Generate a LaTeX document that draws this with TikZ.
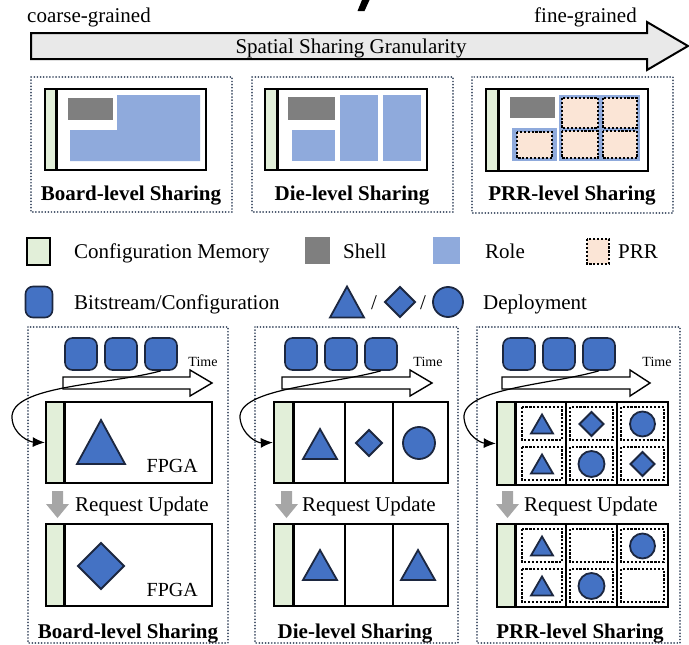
\documentclass[tikz,border=0pt]{standalone}
\usepackage{fontspec}
\setmainfont{Liberation Serif}
\usetikzlibrary{arrows.meta}

\definecolor{cfggreen}{HTML}{E2EFD9}
\definecolor{shellgray}{HTML}{7F7F7F}
\definecolor{roleblue}{HTML}{8FAADC}
\definecolor{prrpeach}{HTML}{FBE5D6}
\definecolor{bitblue}{HTML}{4472C4}
\definecolor{navy}{HTML}{1C2740}
\definecolor{panelc}{HTML}{3E4C63}
\definecolor{arrfill}{HTML}{E9E9E9}
\definecolor{downgray}{HTML}{A6A6A6}

% deployment shapes: centre x, centre y, size
\newcommand\dtri[4]{\draw[deploy] ({#1-#3/2},{#2+#4/2}) -- ({#1+#3/2},{#2+#4/2}) -- (#1,{#2-#4/2}) -- cycle;}
\newcommand\ddia[3]{\draw[deploy] ({#1-#3},#2) -- (#1,{#2-#3}) -- ({#1+#3},#2) -- (#1,{#2+#3}) -- cycle;}
\newcommand\dcirc[3]{\draw[deploy] (#1,#2) circle[radius=#3];}

\begin{document}
\begin{tikzpicture}[x=1pt,y=-1pt,
  txt/.style={inner sep=0pt, font=\fontsize{21}{24}\selectfont},
  lbl/.style={inner sep=0pt, font=\fontsize{21}{24}\selectfont\bfseries},
  fpgatxt/.style={inner sep=0pt, font=\fontsize{20}{24}\selectfont},
  timetxt/.style={inner sep=0pt, font=\fontsize{14}{16}\selectfont},
  panel/.style={draw=panelc, line width=1.9pt, line cap=round, dash pattern=on 0.01pt off 3.1pt},
  prr/.style={draw=black, line width=2.3pt, dash pattern=on 2.2pt off 1.7pt},
  fpga/.style={draw, line width=2.4pt, fill=white, inner sep=0pt,
    path picture={
      \fill[cfggreen] (path picture bounding box.north west) rectangle ([xshift=#1]path picture bounding box.south west);
      \draw[line width=3.6pt] ([xshift=#1+1.6pt]path picture bounding box.north west) -- ([xshift=#1+1.6pt]path picture bounding box.south west);
    }},
  bits/.style={draw=navy, line width=1.6pt, fill=bitblue, rounded corners=7.5pt,
    minimum width=32pt, minimum height=32pt, inner sep=0pt},
  deploy/.style={draw=navy, line width=1.8pt, fill=bitblue},
  timearr/.style={draw=black, line width=1.4pt, fill=white},
  bigarr/.style={draw=black, line width=2pt, fill=arrfill},
  divider/.style={draw=black, line width=1.2pt},
  curv/.style={-{Latex[length=12pt,width=10pt]}, line width=1.2pt},
]
\useasboundingbox (0,0) rectangle (689,645);

% stroke at the top edge
\fill (362,0) -- (369.5,0) -- (364.5,11) -- (357.5,11) -- cycle;

% ---------- granularity arrow ----------
\draw[bigarr] (31,33) -- (647,33) -- (647,22) -- (688,46) -- (647,70) -- (647,59) -- (31,59) -- cycle;
\node[txt, anchor=base west] (coarse) at (27,23) {coarse-grained};
\node[txt, anchor=base east] (fine) at (637,23) {fine-grained};
\node[txt, anchor=base] (gran) at (351,53) {Spatial Sharing Granularity};

% ---------- top row: board / die / PRR ----------
\draw[panel] (31,77) rectangle (232,212);
\node[fpga=10pt, minimum width=161pt, minimum height=81pt] (tb1) at (125.5,129.5) {};
\fill[shellgray] (68,98) rectangle (113,120);
\fill[roleblue] (117,95) -- (200,95) -- (200,161) -- (70,161) -- (70,130) -- (117,130) -- cycle;
\node[lbl, anchor=base] (lb1) at (131,200) {Board-level Sharing};

\draw[panel] (252,77) rectangle (453,212);
\node[fpga=11pt, minimum width=162pt, minimum height=81pt] (tb2) at (346,129.5) {};
\fill[shellgray] (288,97) rectangle (335,120);
\fill[roleblue] (292,130) rectangle (335,161);
\fill[roleblue] (340,95) rectangle (378,161);
\fill[roleblue] (383,95) rectangle (421,161);
\node[lbl, anchor=base] (lb2) at (352,200) {Die-level Sharing};

\draw[panel] (472,77) rectangle (673,213);
\node[fpga=11pt, minimum width=162pt, minimum height=82pt] (tb3) at (567,130) {};
\fill[shellgray] (510,97) rectangle (555,118);
\fill[roleblue] (512,128) rectangle (557,161);
\fill[roleblue] (559,95) rectangle (640,161);
\draw[prr, fill=prrpeach] (517,132) rectangle (552,158);
\draw[prr, fill=prrpeach] (562,98) rectangle (598,128);
\draw[prr, fill=prrpeach] (603,98) rectangle (637,128);
\draw[prr, fill=prrpeach] (562,131) rectangle (598,158);
\draw[prr, fill=prrpeach] (603,131) rectangle (637,158);
\node[lbl, anchor=base] (lb3) at (572,200) {PRR-level Sharing};

% ---------- legend ----------
\draw[line width=2pt, fill=cfggreen] (27,238) rectangle (50,265);
\node[txt, anchor=base west] (lgcfg) at (74,258) {Configuration Memory};
\fill[shellgray] (305,237) rectangle (330,264);
\node[txt, anchor=base west] (lgshell) at (343,258) {Shell};
\fill[roleblue] (433,237) rectangle (460,264);
\node[txt, anchor=base west] (lgrole) at (485,258) {Role};
\draw[prr, line width=1.8pt, fill=prrpeach] (587,239) rectangle (609,264);
\node[txt, anchor=base west] (lgprr) at (618,258) {PRR};

\node[bits, minimum width=27pt, minimum height=31pt] (lgbits) at (39,302) {};
\node[txt, anchor=base west] (lgbitstxt) at (74,309) {Bitstream/Configuration};
\dtri{347}{302}{34}{31}
\node[txt, anchor=base] (sl1) at (374,309) {/};
\ddia{400}{302}{15}
\node[txt, anchor=base] (sl2) at (423,309) {/};
\dcirc{448}{302}{15}
\node[txt, anchor=base west] (lgdep) at (483,309) {Deployment};

% ---------- bottom row: board-level ----------
\draw[panel] (28,327) rectangle (228,643);
\node[bits] (bA1) at (81,354) {};
\node[bits] (bA2) at (121,354) {};
\node[bits] (bA3) at (161,354) {};
\draw[timearr] (63,377) -- (190,377) -- (190,370) -- (212,383) -- (190,396) -- (190,389) -- (63,389) -- cycle;
\node[timetxt, anchor=base] (tA) at (203,366) {Time};
\node[fpga=17pt, minimum width=166pt, minimum height=81pt] (fA1) at (129,442.5) {};
\dtri{101}{442}{48}{44}
\node[fpgatxt, anchor=base east] (gA1) at (198,472) {FPGA};
\fill[downgray] (52,491) -- (63,491) -- (63,504) -- (69,504) -- (57.5,518) -- (46,504) -- (52,504) -- cycle;
\node[txt, anchor=base west] (rA) at (75,511) {Request Update};
\node[fpga=17pt, minimum width=166pt, minimum height=82pt] (fA2) at (129,565) {};
\ddia{101}{566}{23}
\node[fpgatxt, anchor=base east] (gA2) at (198,596) {FPGA};
\node[lbl, anchor=base] (lbA) at (128,638) {Board-level Sharing};
\draw[curv] (bA3.south) .. controls (110,385) and (10,385) .. (12,418) .. controls (13,435) and (30,442) .. (fA1.west);

% ---------- bottom row: die-level ----------
\draw[panel] (255,327) rectangle (458,643);
\node[bits] (bB1) at (301,354) {};
\node[bits] (bB2) at (341,354) {};
\node[bits] (bB3) at (381,354) {};
\draw[timearr] (282,377) -- (410,377) -- (410,370) -- (432,383) -- (410,396) -- (410,389) -- (282,389) -- cycle;
\node[timetxt, anchor=base] (tB) at (428,366) {Time};
\node[fpga=18pt, minimum width=174pt, minimum height=81pt] (fB1) at (361,442.5) {};
\draw[divider] (345,402) -- (345,483);
\draw[divider] (393,402) -- (393,483);
\dtri{320}{444}{34}{30}
\ddia{369}{443}{13}
\dcirc{419}{443}{16}
\fill[downgray] (281,491) -- (292,491) -- (292,504) -- (298,504) -- (286.5,518) -- (275,504) -- (281,504) -- cycle;
\node[txt, anchor=base west] (rB) at (302,511) {Request Update};
\node[fpga=18pt, minimum width=174pt, minimum height=82pt] (fB2) at (361,565) {};
\draw[divider] (345,524) -- (345,606);
\draw[divider] (393,524) -- (393,606);
\dtri{320}{565}{34}{30}
\dtri{418}{565}{34}{30}
\node[lbl, anchor=base] (lbB) at (355,638) {Die-level Sharing};
\draw[curv] (bB3.south) .. controls (330,385) and (238,388) .. (240,418) .. controls (242,436) and (258,443) .. (fB1.west);

% ---------- bottom row: PRR-level ----------
\draw[panel] (477,327) rectangle (680,643);
\node[bits] (bC1) at (519,354) {};
\node[bits] (bC2) at (559,354) {};
\node[bits] (bC3) at (599,354) {};
\draw[timearr] (502,377) -- (630,377) -- (630,370) -- (650,383) -- (630,396) -- (630,389) -- (502,389) -- cycle;
\node[timetxt, anchor=base] (tC) at (657,366) {Time};
\node[fpga=17pt, minimum width=171pt, minimum height=83pt] (fC1) at (582.5,443.5) {};
\draw[divider] (566,402) -- (566,485);
\draw[divider] (617,402) -- (617,485);
\foreach \xa/\xb in {522/562, 570/613, 621/664}{
  \draw[prr] (\xa,407) rectangle (\xb,440);
  \draw[prr] (\xa,447) rectangle (\xb,480);
}
\dtri{542}{424}{22}{19}
\ddia{591.5}{424}{12}
\dcirc{642.5}{424}{12.5}
\dtri{542}{464}{22}{19}
\dcirc{591.5}{464}{13}
\ddia{642.5}{464}{12}
\fill[downgray] (502,491) -- (513,491) -- (513,504) -- (519,504) -- (507.5,518) -- (496,504) -- (502,504) -- cycle;
\node[txt, anchor=base west] (rC) at (524,511) {Request Update};
\node[fpga=17pt, minimum width=171pt, minimum height=83pt] (fC2) at (582.5,565.5) {};
\draw[divider] (566,524) -- (566,607);
\draw[divider] (617,524) -- (617,607);
\foreach \xa/\xb in {522/562, 570/613, 621/664}{
  \draw[prr] (\xa,529) rectangle (\xb,562);
  \draw[prr] (\xa,569) rectangle (\xb,602);
}
\dtri{542}{546}{22}{19}
\dcirc{642.5}{546}{12.5}
\dtri{542}{586}{22}{19}
\dcirc{591.5}{586}{13}
\node[lbl, anchor=base] (lbC) at (580,638) {PRR-level Sharing};
\draw[curv] (bC3.south) .. controls (550,385) and (462,388) .. (464,418) .. controls (466,436) and (481,443) .. (fC1.west);
\end{tikzpicture}
\end{document}
